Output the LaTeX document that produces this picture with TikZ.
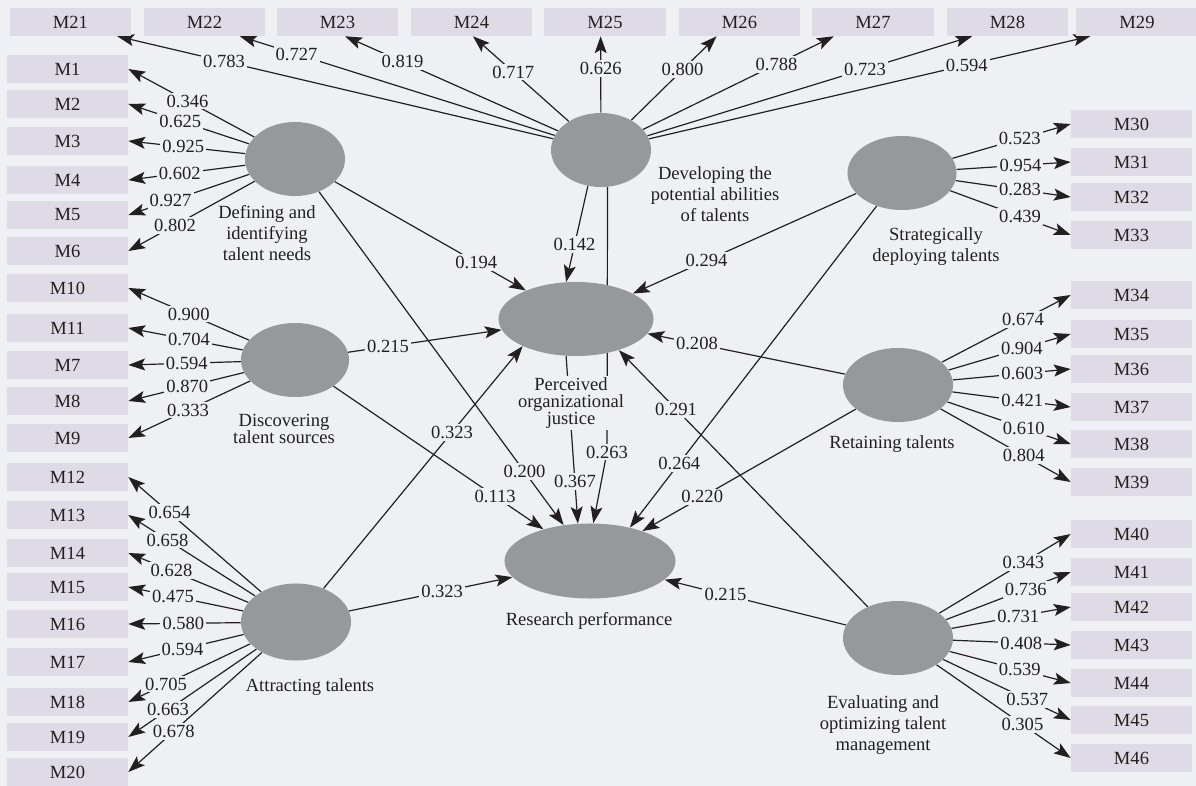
\documentclass[tikz,border=0pt]{standalone}
\usepackage{fontspec}
\setmainfont{Liberation Serif}
\usetikzlibrary{arrows.meta,shapes.geometric}
\definecolor{bgcol}{HTML}{EFF0F4}
\definecolor{boxcol}{HTML}{DEDBE6}
\definecolor{latcol}{HTML}{97989C}
\definecolor{inkcol}{HTML}{231F20}
\pgfdeclarelayer{back}
\pgfsetlayers{back,main}

\begin{document}
\begin{tikzpicture}
  [x=0.025cm,y=-0.025cm,
   every node/.style={text=inkcol,font=\fontsize{13.2}{15}\selectfont},
   item/.style={fill=boxcol,minimum width=3.025cm,minimum height=0.7cm,inner sep=0pt},
   latent/.style={ellipse,fill=latcol,inner sep=0pt,minimum width=2.75cm,minimum height=1.85cm},
   lbl/.style={fill=bgcol,inner sep=1.5pt},
   latname/.style={align=center,inner sep=0pt},
   link/.style={draw=inkcol,line width=0.85pt,-{Stealth[length=12pt,width=8.5pt,inset=2.5pt]}}]
  \useasboundingbox (0,0) rectangle (1196,786);

  % indicator boxes
  \foreach \ind/\x in {21/70.5,22/204.5,23/337.5,24/471.5,25/605,26/739.5,27/873,28/1007.5,29/1137}
    \node[item] (m\ind) at (\x,22) {M\ind};
  \foreach \ind/\y in {1/69,2/104,3/141,4/180,5/215,6/251,10/288,11/328,7/365,8/401,9/438,
                       12/477,13/515,14/553,15/587,16/624,17/662,18/702,19/737,20/772}
    \node[item] (m\ind) at (67.5,\y) {M\ind};
  \foreach \ind/\y in {30/124,31/162,32/197,33/235,34/295,35/334,36/369,37/407,38/444,39/482,
                       40/534,41/572,42/607,43/645,44/683,45/720,46/758}
    \node[item] (m\ind) at (1131.5,\y) {M\ind};

  % latent variables
  \node[latent,minimum width=2.5cm] (def) at (295,159) {};
  \node[latent,minimum width=2.5cm] (dev) at (601,150) {};
  \node[latent,minimum width=2.725cm] (strat) at (902,173) {};
  \node[latent,minimum width=2.7cm] (disc) at (295,360) {};
  \node[latent,minimum width=3.875cm] (poj) at (576,319) {};
  \node[latent] (ret) at (898,385) {};
  \node[latent,minimum height=1.925cm] (att) at (296,622) {};
  \node[latent,minimum width=4.275cm,minimum height=1.875cm] (res) at (590,561) {};
  \node[latent] (eval) at (898,638) {};

  \node[latname] (tdef) at (267,233) {Defining and\\identifying\\talent needs};
  \node[latname] (tdev) at (715,194) {Developing the\\potential abilities\\of talents};
  \node[latname] (tstrat) at (936,247) {Strategically\\deploying talents};
  \node[latname,font=\fontsize{13.2}{12.4}\selectfont] (tdisc) at (284,429) {Discovering\\talent sources};
  \node[latname,fill=bgcol,inner sep=1pt,font=\fontsize{13.2}{12.4}\selectfont] (tpoj) at (571,403) {Perceived\\organizational\\justice};
  \node[latname] (tret) at (892,444) {Retaining talents};
  \node[latname] (tatt) at (310,687) {Attracting talents};
  \node[latname] (tres) at (589,621) {Research performance};
  \node[latname] (teval) at (883,725) {Evaluating and\\optimizing talent\\management};

  \coordinate (bend) at (607,452);

  \begin{pgfonlayer}{back}
  \fill[bgcol] (0,0) rectangle (1196,786);

  % loadings
  \foreach \ind/\load/\fr in {1/0.346/0.53,2/0.625/0.57,3/0.925/0.53,4/0.602/0.56,5/0.927/0.65,6/0.802/0.63}
    \draw[link] (def) -- (m\ind.east) node[lbl,pos=\fr] {\load};
  \foreach \ind/\load/\fr in {21.-17/0.783/0.755,22.-22/0.727/0.82,23.-62/0.819/0.73,24.-84/0.717/0.58,25.-107/0.626/0.58,
                              26.-148/0.800/0.60,27.-160/0.788/0.70,28.-158/0.723/0.67,29.-163/0.594/0.72}
    \draw[link] (dev) -- (m\ind) node[lbl,pos=\fr] {\load};
  \foreach \ind/\load/\fr in {30/0.523/0.57,31/0.954/0.56,32/0.283/0.56,33/0.439/0.58}
    \draw[link] (strat) -- (m\ind.west) node[lbl,pos=\fr] {\load};
  \foreach \ind/\load/\fr in {10/0.900/0.50,11/0.704/0.47,7/0.594/0.48,8/0.870/0.49,9/0.333/0.51}
    \draw[link] (disc) -- (m\ind.east) node[lbl,pos=\fr] {\load};
  \foreach \ind/\load/\fr in {12/0.654/0.69,13/0.658/0.69,14/0.628/0.64,15/0.475/0.61,16/0.580/0.51,
                              17/0.594/0.53,18/0.705/0.69,19/0.663/0.69,20/0.678/0.66}
    \draw[link] (att) -- (m\ind.east) node[lbl,pos=\fr] {\load};
  \foreach \ind/\load/\fr in {34/0.674/0.63,35/0.904/0.60,36/0.603/0.59,37/0.421/0.59,38/0.610/0.62,39/0.804/0.64}
    \draw[link] (ret) -- (m\ind.west) node[lbl,pos=\fr] {\load};
  \foreach \ind/\load/\fr in {40/0.343/0.64,41/0.736/0.64,42/0.731/0.56,43/0.408/0.58,44/0.539/0.58,45/0.537/0.66,46/0.305/0.64}
    \draw[link] (eval) -- (m\ind.west) node[lbl,pos=\fr] {\load};

  % paths
  \draw[link] (def) -- (poj) node[lbl,pos=0.74] {0.194};
  \draw[link] (def) -- (res) node[lbl,pos=0.84] {0.200};
  \draw[link] (dev.-110) -- (poj.105) node[lbl,pos=0.61] {0.142};
  \draw[link] (dev.-80) -- (bend) node[lbl] {0.263} -- (res.85);
  \draw[link] (poj.-105) -- (res.108) node[lbl,pos=0.75] {0.367};
  \draw[link] (strat) -- (poj) node[lbl,pos=0.67] {0.294};
  \draw[link] (strat) -- (res.40) node[lbl,pos=0.8] {0.264};
  \draw[link] (disc) -- (poj) node[lbl,pos=0.26] {0.215};
  \draw[link] (disc) -- (res) node[lbl,pos=0.77] {0.113};
  \draw[link] (ret) -- (poj) node[lbl,pos=0.75] {0.208};
  \draw[link] (ret) -- (res) node[lbl,pos=0.72] {0.220};
  \draw[link] (att) -- (poj.-153) node[lbl,pos=0.645] {0.323};
  \draw[link] (att) -- (res) node[lbl,pos=0.57] {0.323};
  \draw[link] (eval) -- (poj.-36) node[lbl,pos=0.77] {0.291};
  \draw[link] (eval) -- (res) node[lbl,pos=0.665] {0.215};
  \end{pgfonlayer}
\end{tikzpicture}
\end{document}
